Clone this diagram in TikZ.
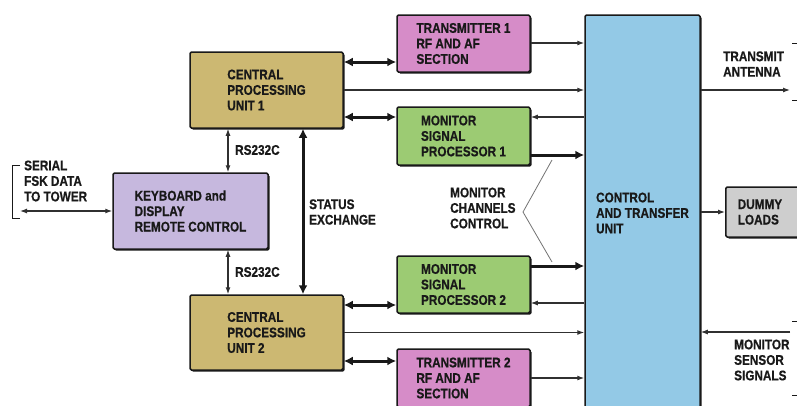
\documentclass[tikz,border=0pt]{standalone}
\usepackage{fontspec}
\setmainfont{Liberation Sans}[FakeStretch=0.84, BoldFeatures={FakeBold=0.6}]
\usetikzlibrary{arrows.meta,shadows}
\definecolor{cpuc}{RGB}{204,184,114}
\definecolor{kbc}{RGB}{198,184,222}
\definecolor{txc}{RGB}{214,140,200}
\definecolor{msc}{RGB}{156,203,115}
\definecolor{ctc}{RGB}{147,201,230}
\definecolor{dmc}{RGB}{206,206,206}
\definecolor{inkc}{RGB}{25,25,25}
\begin{document}
\begin{tikzpicture}[x=1pt,y=-1pt,
  font=\fontsize{14}{15.5}\selectfont\bfseries,
  box/.style={draw=inkc, line width=1.5pt, rounded corners=1.5pt, align=left, inner sep=0pt, text=inkc,
    drop shadow={shadow xshift=1.6pt, shadow yshift=-1.6pt, opacity=1, fill=inkc}},
  lbl/.style={align=left, inner sep=0pt, anchor=west, text=inkc},
  thinarr/.style={draw=inkc!90, line width=1.2pt, -{Latex[length=7pt,width=5pt]}},
  thinboth/.style={draw=inkc!90, line width=1.2pt, {Latex[length=7pt,width=5pt]}-{Latex[length=7pt,width=5pt]}},
  thickarr/.style={draw=inkc, line width=3pt, -{Latex[length=9pt,width=9pt]}},
  thickboth/.style={draw=inkc, line width=3pt, {Latex[length=9pt,width=9pt]}-{Latex[length=9pt,width=9pt]}},
  brk/.style={draw=inkc, line width=1pt},
  pointer/.style={draw=black!55, line width=0.8pt}
]
\useasboundingbox (0,0) rectangle (797,405);
\clip (0,0) rectangle (797,405);
\fill[white] (0,0) rectangle (797,405);

% boxes
\node[box, fill=cpuc, minimum width=153pt, minimum height=76pt] (cpu1) at (266.5,90) {CENTRAL\\PROCESSING\\UNIT 1};
\node[box, fill=cpuc, minimum width=153pt, minimum height=75pt] (cpu2) at (266.5,332.5) {CENTRAL\\PROCESSING\\UNIT 2};
\node[box, fill=kbc, minimum width=155pt, minimum height=76pt] (kb) at (190.5,211) {KEYBOARD and\\DISPLAY\\REMOTE CONTROL};
\node[box, fill=txc, minimum width=133pt, minimum height=57pt] (t1) at (463.5,43.5) {TRANSMITTER 1\\RF AND AF\\SECTION};
\node[box, fill=msc, minimum width=133pt, minimum height=58pt] (m1) at (463.5,136) {MONITOR\\SIGNAL\\PROCESSOR 1};
\node[box, fill=msc, minimum width=133pt, minimum height=57pt] (m2) at (463.5,284.5) {MONITOR\\SIGNAL\\PROCESSOR 2};
\node[box, fill=txc, minimum width=133pt, minimum height=58pt] (t2) at (463.5,378) {TRANSMITTER 2\\RF AND AF\\SECTION};
\node[box, fill=ctc, minimum width=115pt, minimum height=396pt] (ctu) at (642.5,213) {CONTROL\\AND TRANSFER\\UNIT};
\node[box, fill=dmc, anchor=west, text width=68pt, inner xsep=12pt, minimum height=50pt] (dummy) at (725,212) {DUMMY\\LOADS};

% row coordinates
\coordinate (r43) at (0,43);
\coordinate (r62) at (0,62);
\coordinate (r117) at (0,117);
\coordinate (r155) at (0,155);
\coordinate (r266) at (0,266);
\coordinate (r303) at (0,303);
\coordinate (r305) at (0,305);
\coordinate (r361) at (0,361);
\coordinate (r378) at (0,378);
\coordinate (xr) at (228,0);
\coordinate (xs) at (303,0);
\coordinate (fsk) at (20,211);
\coordinate (ant) at (790,90);
\coordinate (sen) at (790,332);

% connectors CPU1
\draw[thickboth] (cpu1.east |- r62) -- (t1.west |- r62);
\draw[thinarr] (cpu1.east) -- (cpu1.east -| ctu.west);
\draw[thickboth] (cpu1.east |- r117) -- (m1.west |- r117);
\draw[thinarr] (t1.east |- r43) -- (ctu.west |- r43);
\draw[thinarr] (ctu.west |- r117) -- (m1.east |- r117);
\draw[thickarr] (m1.east |- r155) -- (ctu.west |- r155);
% connectors CPU2
\draw[thickarr] (m2.east |- r266) -- (ctu.west |- r266);
\draw[thinarr] (ctu.west |- r303) -- (m2.east |- r303);
\draw[thickboth] (cpu2.east |- r305) -- (m2.west |- r305);
\draw[thinarr] (cpu2.east) -- (cpu2.east -| ctu.west);
\draw[thickboth] (cpu2.east |- r361) -- (t2.west |- r361);
\draw[thinarr] (t2.east |- r378) -- (ctu.west |- r378);
% vertical
\draw[thinboth] (cpu1.south -| xr) -- (kb.north -| xr);
\draw[thinboth] (kb.south -| xr) -- (cpu2.north -| xr);
\draw[thickboth] (cpu1.south -| xs) -- (cpu2.north -| xs);
% left
\draw[thinboth] (fsk) -- (kb.west |- fsk);
\draw[brk] (20,165) -- (12,165) -- (12,218) -- (20,218);
% right
\draw[thinarr] (ctu.east |- ant) -- (ant);
\draw[thinarr] (ctu.east |- dummy.west) -- (dummy.west);
\draw[thinarr] (sen) -- (ctu.east |- sen);
\draw[brk] (792,43) -- (797,43);
\draw[brk] (792,100) -- (797,100);
\draw[brk] (792,321) -- (797,321);
\draw[brk] (792,395) -- (797,395);
% monitor channels pointer
\draw[pointer] (552,160) -- (523,212) -- (552,262);

% labels
\node[lbl] at (235,150) {RS232C};
\node[lbl] at (235,272) {RS232C};
\node[lbl] at (309,212) {STATUS\\EXCHANGE};
\node[lbl] at (450,208) {MONITOR\\CHANNELS\\CONTROL};
\node[lbl] at (24,181) {SERIAL\\FSK DATA\\TO TOWER};
\node[lbl] at (723,64) {TRANSMIT\\ANTENNA};
\node[lbl] at (734,360) {MONITOR\\SENSOR\\SIGNALS};
\end{tikzpicture}
\end{document}
